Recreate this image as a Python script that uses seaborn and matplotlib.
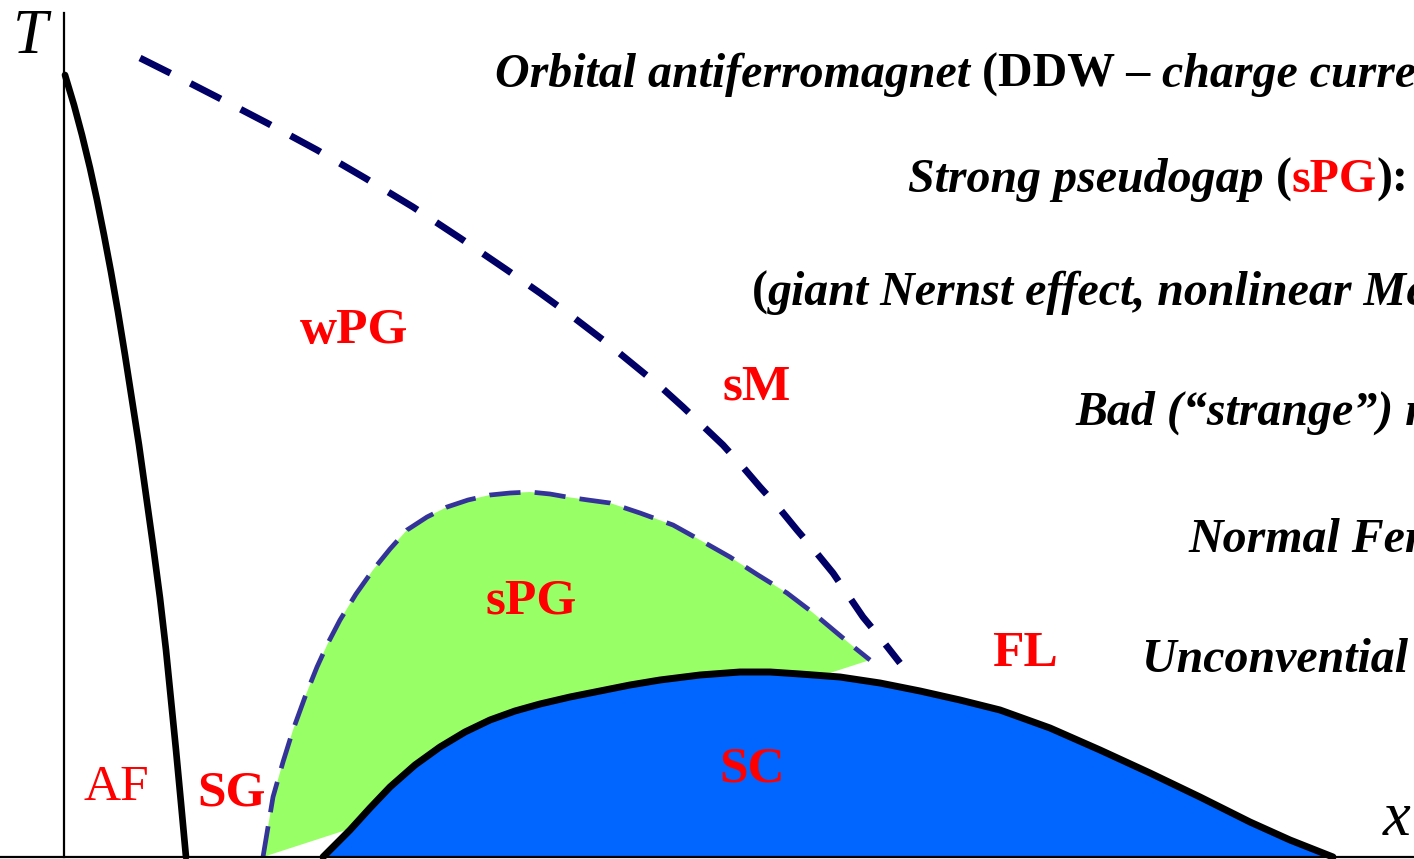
import matplotlib
matplotlib.use("Agg")
import matplotlib.pyplot as plt
import seaborn as sns

# ---------------------------------------------------------------------------
# Phase boundaries of the generic cuprate phase diagram (doping x, temperature T)
# ---------------------------------------------------------------------------
# antiferromagnet boundary
af_x = [0.001, 0.010, 0.018, 0.026, 0.033, 0.040, 0.047, 0.054, 0.061, 0.068,
        0.075, 0.082, 0.089, 0.096, 0.102, 0.107, 0.112, 0.117, 0.122]
af_T = [0.782, 0.752, 0.722, 0.689, 0.657, 0.622, 0.585, 0.545, 0.502, 0.457,
        0.412, 0.362, 0.312, 0.259, 0.207, 0.157, 0.107, 0.054, 0.000]

# weak pseudogap / strange metal crossover (orbital antiferromagnet line)
ddw_x = [0.076, 0.114, 0.153, 0.203, 0.253, 0.301, 0.349, 0.396, 0.443,
         0.476, 0.509, 0.543, 0.576, 0.598, 0.619, 0.639, 0.659, 0.678,
         0.696, 0.715, 0.733, 0.751, 0.769, 0.784, 0.799, 0.818, 0.836]
ddw_T = [0.799, 0.780, 0.760, 0.734, 0.707, 0.679, 0.650, 0.619, 0.587,
         0.564, 0.540, 0.514, 0.487, 0.469, 0.450, 0.431, 0.412, 0.391,
         0.370, 0.349, 0.327, 0.306, 0.284, 0.262, 0.240, 0.217, 0.194]

# strong pseudogap dome
spg_x = [0.199, 0.204, 0.209, 0.219, 0.229, 0.241, 0.253, 0.264, 0.276,
         0.292, 0.309, 0.326, 0.343, 0.363, 0.383, 0.404, 0.426, 0.446,
         0.466, 0.486, 0.503, 0.524, 0.546, 0.576, 0.609, 0.636, 0.666,
         0.694, 0.723, 0.748, 0.773, 0.791, 0.806]
spg_T = [0.000, 0.030, 0.060, 0.095, 0.127, 0.160, 0.190, 0.214, 0.237,
         0.263, 0.287, 0.308, 0.327, 0.340, 0.350, 0.357, 0.362, 0.364,
         0.365, 0.363, 0.360, 0.357, 0.354, 0.344, 0.332, 0.317, 0.300,
         0.282, 0.264, 0.245, 0.224, 0.209, 0.197]

# superconducting dome
sc_x = [0.259, 0.286, 0.306, 0.326, 0.351, 0.376, 0.401, 0.426, 0.451,
        0.476, 0.506, 0.536, 0.566, 0.596, 0.636, 0.676, 0.706, 0.736, 0.776,
        0.816, 0.856, 0.896, 0.936, 0.986, 1.036, 1.086, 1.136, 1.186, 1.226,
        1.269]
sc_T = [0.000, 0.027, 0.049, 0.070, 0.092, 0.110, 0.125, 0.137, 0.146,
        0.153, 0.160, 0.166, 0.172, 0.177, 0.182, 0.185, 0.185, 0.183, 0.180,
        0.174, 0.166, 0.157, 0.147, 0.129, 0.107, 0.084, 0.060, 0.035, 0.017,
        0.000]

# region names
region_names = ["wPG", "sM", "sPG", "FL", "SC", "AF", "SG"]
region_bold = [True, True, True, True, True, False, True]

# description lines on the right: (text, italic, colour) pieces, joined by spaces
desc_lines = [
    [("Orbital antiferromagnet", True, "black"), ("(DDW –", False, "black"),
     ("charge current density wave)", True, "black")],
    [("Strong pseudogap", True, "black"), ("(", False, "black"),
     ("sPG", False, "red"), ("):", False, "black"),
     ("preformed pairs", True, "black")],
    [("(", False, "black"),
     ("giant Nernst effect, nonlinear Meissner effect)", True, "black")],
    [("Bad (“strange”) metal (sM)", True, "black")],
    [("Normal Fermi liquid (FL)", True, "black")],
    [("Unconvential superconductivity (SC)", True, "black")],
]

# ---------------------------------------------------------------------------
W, H = 1414, 859
sns.set_theme(style="white")
plt.rcParams["font.family"] = ["Liberation Serif", "DejaVu Serif"]
plt.rcParams["text.color"] = "black"

fig = plt.figure(figsize=(W / 100, H / 100), dpi=100)
ax = fig.add_axes([0, 0, 1, 1])
ax.set_xlim(-0.064, 1.350)
ax.set_ylim(-0.002, 0.857)

BLUE = "#0066FF"
GREEN = "#99FF66"
NAVY = "#000066"
DOME_EDGE = "#333399"

# strong pseudogap region
ax.fill(spg_x, spg_T, color=GREEN, lw=0, zorder=1)
sns.lineplot(x=spg_x, y=spg_T, ax=ax, color=DOME_EDGE, linewidth=3.4,
             sort=False, estimator=None, zorder=2)
ax.lines[-1].set_linestyle((0, (6.6, 3.0)))

# superconducting dome
ax.fill_between(sc_x, sc_T, 0, color=BLUE, lw=0, zorder=3)
sns.lineplot(x=sc_x, y=sc_T, ax=ax, color="black", linewidth=5.0,
             sort=False, estimator=None, zorder=4)
ax.lines[-1].set_solid_joinstyle("round")

# antiferromagnetic boundary
sns.lineplot(x=af_x, y=af_T, ax=ax, color="black", linewidth=4.8,
             sort=False, estimator=None, zorder=4)
ax.lines[-1].set_solid_joinstyle("round")

# pseudogap crossover line
sns.lineplot(x=ddw_x, y=ddw_T, ax=ax, color=NAVY, linewidth=4.9,
             sort=False, estimator=None, zorder=4)
ax.lines[-1].set_linestyle((0, (5.0, 3.3)))

# axes
for side in ("top", "right"):
    ax.spines[side].set_visible(False)
ax.spines["left"].set_position(("data", 0))
ax.spines["left"].set_bounds(0, 0.844)
ax.spines["bottom"].set_position(("data", 0))
for side in ("left", "bottom"):
    ax.spines[side].set_color("black")
    ax.spines[side].set_linewidth(1.6)
    ax.spines[side].set_zorder(5)
ax.set_xticks([])
ax.set_yticks([])
ax.patch.set_alpha(0)

ax.text(-0.034, 0.804, "T", fontsize=45, style="italic", color="black",
        ha="center", va="baseline")
ax.text(1.333, 0.022, "x", fontsize=45, style="italic", color="black",
        ha="center", va="baseline")

# region labels
label_pos = [(0.290, 0.514), (0.693, 0.457), (0.467, 0.244), (0.961, 0.191),
             (0.688, 0.075), (0.052, 0.057), (0.168, 0.052)]
for name, bold, (lx, ly) in zip(region_names, region_bold, label_pos):
    ax.text(lx, ly, name, color="red", fontsize=37,
            fontweight="bold" if bold else "normal",
            ha="center", va="baseline", zorder=6)

# description lines, built piece by piece
renderer = fig.canvas.get_renderer()
DESC_SIZE = 34.5


def piece_width(s, italic):
    t = fig.text(0, 0, s, fontsize=DESC_SIZE, fontweight="bold",
                 style="italic" if italic else "normal")
    w = t.get_window_extent(renderer).width
    t.remove()
    return w


line_start = [(495, 87), (908, 192), (752, 305), (1075, 425), (1188, 552),
              (1142, 672)]
for pieces, (px, py) in zip(desc_lines, line_start):
    x = px
    prev = None
    for text, italic, color in pieces:
        if prev is not None and not (prev == "(" or text.startswith(")")
                                     or text == "sPG"):
            x += piece_width("a a", italic) - piece_width("aa", italic)
        fig.text(x / W, 1 - py / H, text, fontsize=DESC_SIZE,
                 fontweight="bold", style="italic" if italic else "normal",
                 color=color, ha="left", va="baseline")
        x += piece_width(text, italic)
        prev = text

fig.savefig("out.png", dpi=100)
